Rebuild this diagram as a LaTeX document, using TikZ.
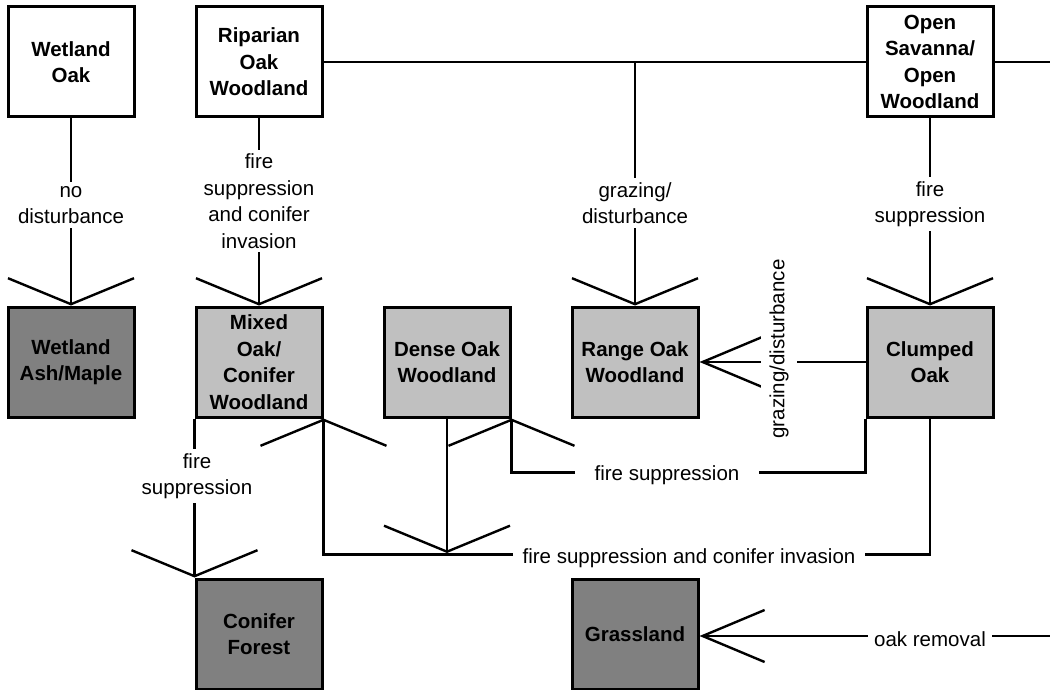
\documentclass[tikz,border=0pt]{standalone}
\usepackage{fontspec}
\setmainfont{Liberation Sans}
\usetikzlibrary{arrows.meta}
\definecolor{lightfill}{HTML}{C0C0C0}
\definecolor{darkfill}{HTML}{808080}
\begin{document}
\begin{tikzpicture}[x=1pt,y=-1pt,
  box/.style={draw=black,line width=3pt,minimum width=126pt,minimum height=110pt,inner sep=0pt,align=center,font=\bfseries\fontsize{20.5}{26.5}\selectfont},
  whitebox/.style={box,fill=white},
  lightbox/.style={box,fill=lightfill},
  darkbox/.style={box,fill=darkfill},
  conn/.style={line width=2.4pt},
  vbarb/.style={conn,-{Straight Barb[length=26pt,width=126pt,sharp]}},
  hbarb/.style={conn,-{Straight Barb[length=62pt,width=52pt,sharp]}},
  lbl/.style={fill=white,inner sep=4pt,align=center,font=\fontsize{20.5}{26.5}\selectfont}]
\useasboundingbox (0,0) rectangle (1050,690);
% boxes
\node[whitebox] (wo) at (71,62) {Wetland\\Oak};
\node[whitebox] (ro) at (259,62) {Riparian\\Oak\\Woodland};
\node[whitebox] (os) at (930,62) {Open\\Savanna/\\Open\\Woodland};
\node[darkbox] (wam) at (71,362) {Wetland\\Ash/Maple};
\node[lightbox] (moc) at (259,362) {Mixed\\Oak/\\Conifer\\Woodland};
\node[lightbox] (dow) at (447,362) {Dense Oak\\Woodland};
\node[lightbox] (row) at (635,362) {Range Oak\\Woodland};
\node[lightbox] (co) at (930,362) {Clumped\\Oak};
\node[darkbox] (cf) at (259,634) {Conifer\\Forest};
\node[darkbox] (gl) at (635,634) {Grassland};
% coordinates
\coordinate (re) at (1050,62);
\coordinate (gj) at (row.north |- ro.east);
\coordinate (jn) at (447,553);
\coordinate (oe) at (1050,636);
% connectors
\draw[vbarb] (wo) -- (wam);
\draw[vbarb] (ro) -- (moc);
\draw[conn] (ro) -- (os);
\draw[conn] (os) -- (re);
\draw[vbarb] (gj) -- (row);
\draw[vbarb] (os) -- (co);
\draw[hbarb] (co) -- (row);
\draw[vbarb] (co.south west) -- ++(0,54) -| (dow.south east);
\draw[vbarb] (co.south) -- ++(0,136) -| (moc.south east);
\draw[vbarb] (dow) -- (jn);
\draw[vbarb] (moc.south west) -- (cf.north west);
\draw[hbarb] (oe) -- (gl.east |- oe);
% labels
\node[lbl] at (71,205) {no\\disturbance};
\node[lbl] at (259,201) {fire\\suppression\\and conifer\\invasion};
\node[lbl] at (635,203) {grazing/\\disturbance};
\node[lbl] at (930,204) {fire\\suppression};
\node[lbl,rotate=90,inner sep=8pt] at (779,349) {grazing/disturbance};
\node[lbl,inner xsep=20pt] at (667,475) {fire suppression};
\node[lbl,inner xsep=10pt] at (689,558) {fire suppression and conifer invasion};
\node[lbl] at (197,476) {fire\\suppression};
\node[lbl,inner xsep=6pt] at (930,639) {oak removal};
\end{tikzpicture}
\end{document}
